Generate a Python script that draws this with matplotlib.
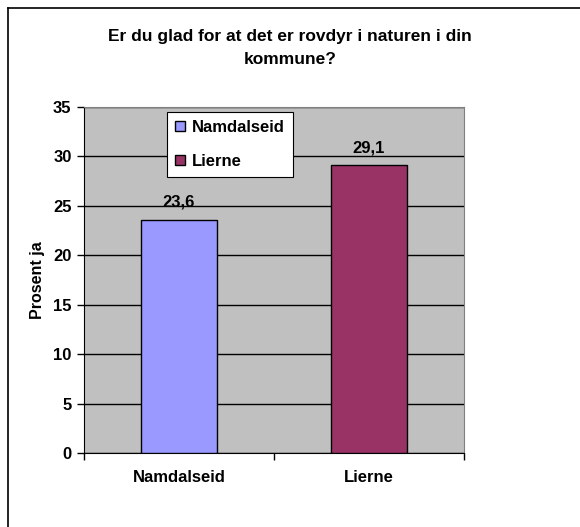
import matplotlib
matplotlib.use("Agg")
import matplotlib.pyplot as plt
from matplotlib.lines import Line2D

plt.rcParams['font.family'] = ['Liberation Sans', 'DejaVu Sans']
plt.rcParams['font.weight'] = 'bold'

# data
kommuner = ['Namdalseid', 'Lierne']
prosent_ja = [23.6, 29.1]
farger = ['#9999FF', '#993366']
y_ticks = [0, 5, 10, 15, 20, 25, 30, 35]
tittel = 'Er du glad for at det er rovdyr i naturen i din\nkommune?'

fs = 12

fig = plt.figure(figsize=(5.8, 5.27), dpi=100)
ax = fig.add_axes([84/580, 74/527, 380/580, 346/527])
ax.set_facecolor('#C0C0C0')

x = list(range(len(kommuner)))
bars = ax.bar(x, prosent_ja, width=0.395, color=farger, edgecolor='black',
              linewidth=1, label=kommuner, zorder=3)

for xi, v in zip(x, prosent_ja):
    ax.text(xi, v + 1.0, f'{v:.1f}'.replace('.', ','), ha='center', va='bottom',
            fontsize=fs, fontweight='bold')

ax.set_ylim(0, 35)
ax.set_yticks(y_ticks)
ax.set_yticklabels([str(t) for t in y_ticks], fontsize=fs, fontweight='bold')
ax.yaxis.grid(True, color='black', linewidth=1, zorder=1)
ax.set_axisbelow(True)
ax.tick_params(axis='y', length=5, width=1, pad=4)

ax.set_xlim(-0.5, 1.5)
ax.set_xticks([-0.5, 0.5, 1.5])
ax.set_xticklabels([])
ax.set_xticks(x, minor=True)
ax.set_xticklabels(kommuner, minor=True, fontsize=fs, fontweight='bold')
ax.tick_params(axis='x', which='major', length=5, width=1)
ax.tick_params(axis='x', which='minor', length=0, pad=12)

for s in ['top', 'right']:
    ax.spines[s].set_color('#808080')
for s in ['left', 'bottom']:
    ax.spines[s].set_color('black')

ax.set_ylabel('Prosent ja', fontsize=11.5, fontweight='bold', labelpad=6)

leg = ax.legend(bars, kommuner, loc='upper left',
                bbox_to_anchor=(167/580, 1 - 112/527), bbox_transform=fig.transFigure,
                prop={'weight': 'bold', 'size': fs}, fancybox=False, framealpha=1,
                edgecolor='black', handlelength=0.55, handleheight=0.55,
                handletextpad=0.42, labelspacing=1.1, borderpad=0.5, borderaxespad=0)
leg.get_frame().set_linewidth(0.8)

fig.suptitle(tittel, x=0.5, y=1 - 29/527, fontsize=12.5, fontweight='bold',
             va='top', linespacing=1.65)

# figure border (left and top visible)
fig.add_artist(Line2D([8/580, 8/580], [0, 1 - 8/527], color='black', linewidth=1.2,
                      transform=fig.transFigure))
fig.add_artist(Line2D([8/580, 1], [1 - 8/527, 1 - 8/527], color='black', linewidth=1.2,
                      transform=fig.transFigure))

fig.savefig('out.png', dpi=100)
